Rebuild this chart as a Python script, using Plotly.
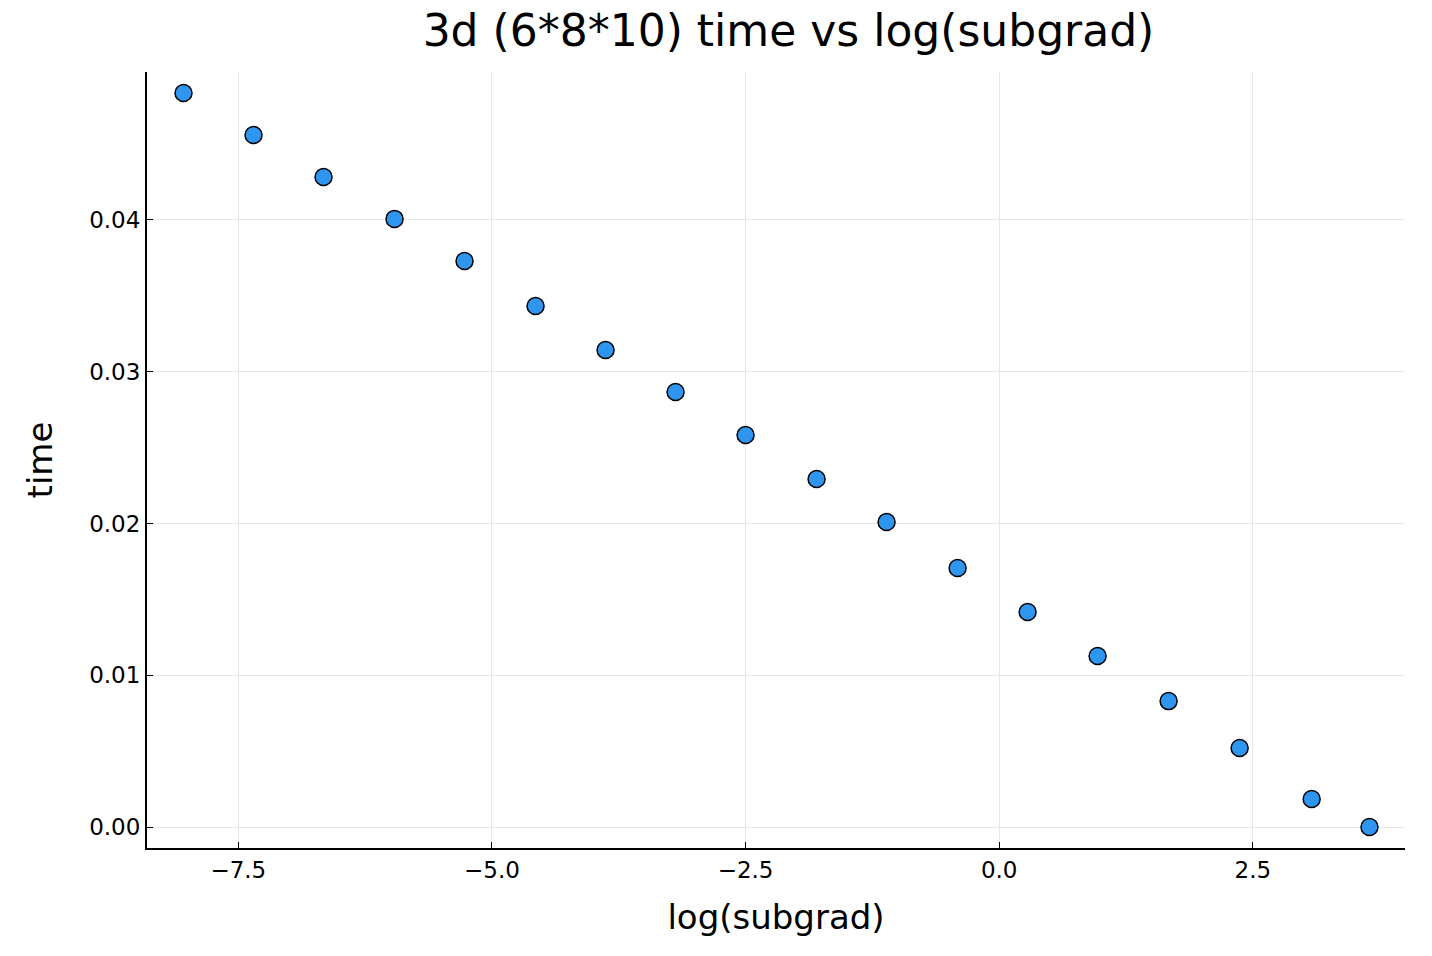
import plotly.graph_objects as go

log_subgrad = [-8.04, -7.35, -6.66, -5.96, -5.27, -4.57, -3.88, -3.19, -2.50,
               -1.80, -1.11, -0.41, 0.28, 0.97, 1.67, 2.37, 3.08, 3.65]
time = [0.04837, 0.04560, 0.04283, 0.04007, 0.03730, 0.03433, 0.03143, 0.02867,
        0.02583, 0.02293, 0.02010, 0.01707, 0.01417, 0.01127, 0.00830, 0.00521,
        0.00185, 0.0]

fig = go.Figure(go.Scatter(
    x=log_subgrad, y=time, mode="markers",
    marker=dict(size=17, color="#2f96f0", line=dict(color="black", width=1.5)),
))

axis_common = dict(
    showline=True, linecolor="black", linewidth=2, mirror=False,
    ticks="inside", ticklen=6, tickcolor="black",
    showgrid=True, gridcolor="#e6e6e6", zeroline=False,
    tickfont=dict(size=23, color="black"),
)

fig.update_layout(
    width=1432, height=956,
    plot_bgcolor="white", paper_bgcolor="white",
    font=dict(family="DejaVu Sans", color="black"),
    title=dict(text="3d (6*8*10) time vs log(subgrad)", x=0.545, y=0.992,
               yanchor="top", xanchor="center", font=dict(size=44)),
    margin=dict(l=139, r=35, t=64, b=116),
    showlegend=False,
    xaxis=dict(range=[-8.40, 4.00], tickvals=[-7.5, -5.0, -2.5, 0.0, 2.5],
               ticktext=["−7.5", "−5.0", "−2.5", "0.0", "2.5"],
               title=dict(text="log(subgrad)", font=dict(size=34), standoff=24),
               **axis_common),
    yaxis=dict(range=[-0.00138, 0.04975], tickvals=[0, 0.01, 0.02, 0.03, 0.04],
               ticktext=["0.00", "0.01", "0.02", "0.03", "0.04"],
               title=dict(text="time", font=dict(size=34), standoff=26),
               **axis_common),
)

fig.write_html("out.html")
